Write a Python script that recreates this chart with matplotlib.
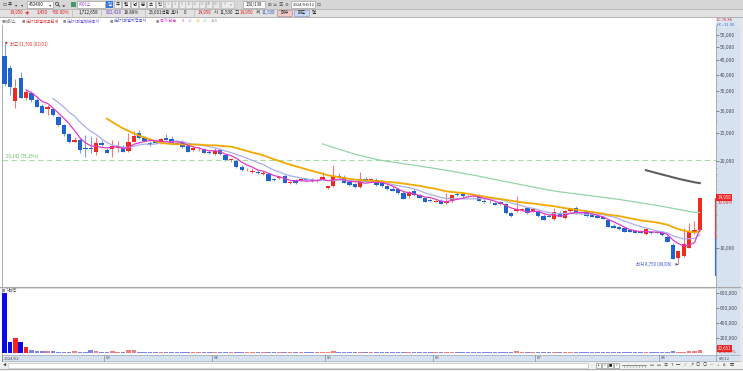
import matplotlib
matplotlib.use("Agg")
import matplotlib.pyplot as plt
import numpy as np
import pandas as pd
from matplotlib.patches import Rectangle, Circle
from matplotlib.ticker import FixedLocator, NullFormatter, FuncFormatter
from matplotlib.transforms import blended_transform_factory

plt.rcParams['font.family'] = ['Noto Sans CJK KR', 'DejaVu Sans']

# ---------------- data ----------------
opens = [46500, 42300, 32500, 38900, 33100, 34500, 32700, 31200, 30300, 30300,
         28400, 26700, 24900, 23400, 23700, 22300, 22250, 21580, 23100, 21880,
         22120, 22300, 22380, 21700, 23390, 24990, 24180, 23210, 23530, 23100,
         24110, 23900, 23160, 23390, 22600, 21880, 21970, 22000, 21580, 21190,
         21880, 21020, 20120, 20040, 19140, 18720, 18330, 18380, 18050, 18050,
         17280, 17440, 17770, 16850, 17210, 17210, 17390, 17300, 17070, 17300,
         16090, 16350, 17770, 17590, 16900, 16620, 16260, 17340, 17070, 17210,
         16760, 16350, 15970, 16010, 15540, 15080, 15750, 15260, 14860, 14660,
         14480, 14570, 14270, 14540, 15340, 15340, 15170, 15170, 15260, 14570,
         14460, 14270, 14400, 14190, 13180, 13440, 13530, 13710, 13440, 13390,
         12890, 12920, 12560, 13240, 12660, 13440, 13770, 13280, 13390, 13070,
         12890, 12760, 12490, 11900, 11770, 11680, 11520, 11430, 11430, 11130,
         11370, 11370, 11280, 10920, 10220, 9190, 9360, 10000, 11300, 11530]
highs = [51700, 43200, 38600, 40800, 35400, 35100, 33100, 31700, 31400, 30600,
         28700, 26900, 25100, 24200, 24000, 24700, 24400, 24300, 23700, 22230,
         23700, 23500, 22780, 25150, 25530, 25690, 24400, 23510, 23750, 24100,
         24820, 24400, 23530, 23710, 22960, 22600, 22420, 22230, 21880, 22230,
         22050, 21190, 20520, 20200, 19410, 18950, 18950, 18640, 18490, 18190,
         17480, 17770, 18050, 17070, 17340, 17480, 17480, 17480, 17340, 18270,
         16400, 19410, 18190, 17910, 17070, 16800, 18270, 17620, 17480, 17480,
         16930, 16530, 16400, 16140, 15750, 15750, 16010, 15380, 15020, 14780,
         14660, 14780, 15480, 15260, 15660, 15660, 15260, 15260, 15380, 14780,
         14660, 14420, 14540, 14310, 13310, 15140, 13740, 13860, 13610, 13530,
         13100, 13100, 13710, 13440, 13530, 13740, 13950, 13440, 13530, 13200,
         13000, 12890, 12590, 12100, 11900, 11810, 11620, 11570, 11520, 11620,
         11470, 11430, 11380, 11070, 10390, 9760, 11730, 12220, 12390, 14950]
lows = [36400, 34000, 30600, 33100, 32700, 32200, 30800, 29400, 29000, 28700,
        26600, 24500, 23200, 23300, 21400, 20750, 21350, 21000, 22600, 21360,
        20740, 21540, 21540, 21540, 23340, 23940, 23530, 22600, 23160, 22960,
        23620, 22990, 22900, 22260, 21540, 21700, 21700, 21360, 21200, 21020,
        21100, 20070, 19910, 18950, 18490, 18490, 18190, 18050, 17910, 17000,
        17070, 17340, 16760, 16670, 16670, 17070, 17070, 16930, 16930, 17140,
        16000, 16260, 17480, 16730, 16460, 16170, 16170, 16930, 16930, 16460,
        16310, 15880, 15690, 15380, 14780, 14900, 15190, 14840, 14420, 14480,
        14420, 14140, 14140, 14480, 15140, 14860, 14960, 14960, 14540, 14360,
        14270, 14050, 14110, 13100, 12840, 13310, 13440, 13150, 13310, 12840,
        12440, 12750, 12490, 12810, 12590, 13310, 13150, 13130, 12840, 12810,
        12640, 12540, 11810, 11670, 11570, 11340, 11340, 11210, 11210, 11070,
        11190, 11220, 11020, 10470, 9100, 8750, 9280, 9940, 11160, 11500]
closes = [37000, 36300, 35900, 33300, 34700, 32700, 31000, 29500, 31000, 29000,
          26700, 24900, 23400, 23800, 21900, 22000, 22000, 23100, 22750, 21420,
          22590, 22500, 21580, 23390, 24480, 24030, 23580, 22720, 23210, 23870,
          23710, 23100, 22960, 22380, 21580, 22170, 22140, 21420, 21310, 21760,
          21190, 20120, 20320, 19050, 18640, 18800, 18530, 18140, 18230, 17070,
          17140, 17680, 16850, 16980, 16760, 17390, 17210, 17070, 17210, 17680,
          16350, 17770, 17590, 16760, 16530, 16260, 17300, 16980, 17340, 16530,
          16350, 15970, 15790, 15470, 14810, 15630, 15260, 14860, 14460, 14540,
          14570, 14190, 14460, 15260, 15220, 15170, 15080, 15080, 14570, 14380,
          14400, 14080, 14150, 13180, 12920, 13610, 13610, 13180, 13610, 12890,
          12490, 12760, 13280, 12820, 13440, 13610, 13180, 13180, 12890, 12820,
          12660, 12560, 11840, 11680, 11580, 11370, 11370, 11280, 11280, 11580,
          11240, 11250, 11070, 10490, 9130, 9760, 10270, 11370, 11500, 14950]
volumes = [793000, 140000, 196000, 140000, 75000, 30000, 17000, 17000, 26000, 17000,
           15000, 15000, 14000, 20000, 15000, 15000, 30000, 22000, 15000, 12000,
           18000, 15000, 12000, 30000, 30000, 15000, 12000, 10000, 10000, 12000,
           9000, 9000, 8000, 9000, 9000, 8000, 7000, 8000, 7000, 9000,
           8000, 9000, 7000, 9000, 8000, 6000, 6000, 6000, 6000, 9000,
           6000, 7000, 8000, 6000, 6000, 7000, 6000, 6000, 6000, 9000,
           8000, 16000, 8000, 8000, 7000, 6000, 12000, 7000, 7000, 7000,
           6000, 7000, 6000, 7000, 8000, 8000, 6000, 6000, 7000, 6000,
           6000, 7000, 9000, 10000, 7000, 7000, 6000, 6000, 7000, 6000,
           6000, 6000, 6000, 9000, 7000, 16000, 8000, 7000, 7000, 7000,
           7000, 6000, 10000, 7000, 9000, 8000, 7000, 6000, 7000, 6000,
           6000, 6000, 8000, 7000, 6000, 7000, 6000, 6000, 6000, 9000,
           6000, 6000, 7000, 9000, 16000, 14000, 12000, 18000, 16000, 30000]
month_labels = ['2024/02', '03', '04', '05', '06', '07', '08']
month_start = [0, 19, 39, 60, 80, 99, 122]
price_ticks = [10000, 20000, 25000, 30000, 35000, 40000, 45000, 50000, 55000]
vol_ticks = [200000, 400000, 600000, 800000]
ma_windows = [5, 10, 20, 60, 120]
ma_colors = ['#E23CC8', '#A9AEEE', '#F2A900', '#93D6A6', '#5E5E5E']
ma_widths = [0.9, 0.9, 1.3, 0.9, 1.5]
ref_level = 20142
ref_label = '20,142 (75.15%)'
hi_label = '최고 51,700 (02/01)'
lo_label = '최저 8,750 (08/06)'

# ---------------- figure ----------------
W, H = 743, 371
fig = plt.figure(figsize=(W / 100, H / 100), dpi=100)
fig.patch.set_facecolor('white')

def px_axes(x0, y0, x1, y1, z=1):
    a = fig.add_axes([x0 / W, 1 - y1 / H, (x1 - x0) / W, (y1 - y0) / H])
    a.set_zorder(z)
    a.patch.set_alpha(0)
    return a

ui = px_axes(0, 0, W, H, z=0)
ui.set_xlim(0, W); ui.set_ylim(H, 0); ui.axis('off')
top = px_axes(0, 0, W, H, z=5)
top.set_xlim(0, W); top.set_ylim(H, 0); top.axis('off')

FS = 3.2
PANEL = '#D6E2EF'

def t(x, y, s, c='#202020', fs=FS, ha='left', ax=ui, **kw):
    ax.text(x, y, s, fontsize=fs, color=c, ha=ha, va='center', **kw)

# toolbar backgrounds
ui.add_patch(Rectangle((0, 0), W, 8.5, fc='#D6D6D6', ec='none'))
ui.add_patch(Rectangle((0, 8.5), W, 8.5, fc='#E2E2E2', ec='none'))
ui.plot([0, W], [8.5, 8.5], color='#B0B0B0', lw=0.6)
ui.plot([0, W], [17, 17], color='#A8A8A8', lw=0.6)
# right axis panel
ui.add_patch(Rectangle((716, 17), 24, 344, fc=PANEL, ec='none'))
ui.add_patch(Rectangle((740, 17), 3, 354, fc='#E6E6E6', ec='none'))
ui.plot([716, 716], [25, 361], color='#9AA8B8', lw=0.6)
# pane frames
ui.plot([1.5, 1.5], [25, 361], color='#A0A0A0', lw=0.6)
ui.plot([0, 740], [286.5, 286.5], color='#A8A8A8', lw=0.8)
ui.plot([0, 740], [288, 288], color='#D0D0D0', lw=0.5)
# date strip
ui.add_patch(Rectangle((2, 355), 714, 6, fc=PANEL, ec='none'))
ui.plot([2, 740], [355, 355], color='#9AA8B8', lw=0.5)
ui.plot([2, 740], [361, 361], color='#9AA8B8', lw=0.5)
# bottom bar
ui.add_patch(Rectangle((0, 361.5), W, 9.5, fc='#F0F0F0', ec='none'))
ui.plot([0, W], [368.5, 368.5], color='#A0A0A0', lw=0.6)
t(2.5, 365, '◀', c='#404040', fs=2.6)
ui.add_patch(Rectangle((8, 362.5), 580, 5, fc='white', ec='#B8B8B8', lw=0.4))
for k, s in enumerate(['▸', '«', '■', '»']):
    ui.add_patch(Rectangle((596 + k * 6, 362.5), 5, 5, fc='white', ec='#808080', lw=0.4))
    t(598.5 + k * 6, 365, s, fs=2.4, ha='center')
ui.plot([622, 646], [365, 365], color='#808080', lw=0.6)
for k in range(8):
    ui.plot([624 + k * 3, 624 + k * 3], [366, 367], color='#808080', lw=0.4)
for k, s in enumerate(['▭', '▭', '≡', 'T', '─', '⁄', '↗', '○', '○', '—', '+', 'A', '▤']):
    t(652 + k * 6.6, 365, s, c='#404040', fs=3.0, ha='center')

# toolbar row 1
y1 = 4.3
t(3, y1, '☐', c='#404040'); t(8, y1, '주'); t(15, y1, '▾', c='#404040'); t(21, y1, '▾', c='#404040')
ui.add_patch(Rectangle((27, 1), 26, 6.5, fc='white', ec='#909090', lw=0.4))
t(29, y1, '452400'); t(49, y1, '▾', c='#404040')
ui.add_patch(Circle((57, 3.8), 1.6, fc='none', ec='#404040', lw=0.5))
ui.plot([58.2, 59.6], [5.0, 6.4], color='#404040', lw=0.6)
t(62, y1, '◂▸', c='#404040')
ui.add_patch(Rectangle((71, 1.5), 5, 5.5, fc='#3F9A6A', ec='none'))
ui.add_patch(Rectangle((77, 1), 28, 6.5, fc='white', ec='#909090', lw=0.4))
t(79, y1, '에이스', c='#9050C0')
ui.add_patch(Rectangle((106, 1), 7, 6.5, fc='#3A78D8', ec='none'))
t(109.5, y1, '일', c='white', ha='center')
for k, s in enumerate(['주', '월', '년', '분', '초', '틱']):
    ui.add_patch(Rectangle((114 + k * 8.3, 1), 7.3, 6.5, fc='#F2F2F2', ec='#A0A0A0', lw=0.4))
    t(117.6 + k * 8.3, y1, s, ha='center')
for k, s in enumerate(['1', '3', '5', '10', '15', '30', '45', '60']):
    ui.add_patch(Rectangle((165 + k * 6.8, 1), 6.3, 6.5, fc='#EBEBEB', ec='#B8B8B8', lw=0.4))
    t(168.1 + k * 6.8, y1, s, c='#A0A0A0', fs=2.9, ha='center')
ui.add_patch(Rectangle((221, 1), 13, 6.5, fc='#EBEBEB', ec='#B8B8B8', lw=0.4))
t(223.5, y1, '3', c='#A0A0A0', fs=2.9); t(230, y1, '▾', c='#A0A0A0', fs=2.9)
ui.add_patch(Rectangle((243, 1), 22, 6.5, fc='white', ec='#909090', lw=0.4))
t(254, y1, '130/138', ha='center')
for k, s in enumerate(['⊞', '⇲', '▣', '⚙']):
    t(269 + k * 6, y1, s, c='#505050', ha='center')
ui.add_patch(Rectangle((291, 1), 24, 6.5, fc='white', ec='#909090', lw=0.4))
t(292.3, y1, '2024/08/12', fs=3.0)
t(316.5, y1, '☐', c='#404040')

# toolbar row 2
y2 = 12.8
row2 = [(10, '14,950', '#E01818'), (25, '✚', '#E01818'), (37, '3,450', '#E01818'),
        (52, '+30.00%', '#E01818'), (79, '1,712,658', '#202020'), (106, '932,428', '#7040C0'),
        (124, '18.88%', '#202020'), (149, '23,601백만', '#202020'), (171, '호가', '#202020'),
        (184, '0', '#202020'), (198, '14,950', '#E01818'), (214, '시', '#202020'),
        (220, '11,530', '#202020'), (235, '고', '#202020'), (240, '14,950', '#E01818'),
        (256, '저', '#202020'), (262, '11,530', '#2050D0')]
for xx, s, cc in row2:
    t(xx, y2, s, c=cc)
for x0 in [72, 101, 145, 194]:
    ui.plot([x0, x0], [9.5, 16], color='#B0B0B0', lw=0.4)
ui.add_patch(Rectangle((277, 9.5), 15, 6.5, fc='#F4C8C8', ec='#B08080', lw=0.4))
t(284.5, y2, '매수', ha='center')
ui.add_patch(Rectangle((294, 9.5), 15, 6.5, fc='#C8D8F4', ec='#8090B0', lw=0.4))
t(301.5, y2, '매도', ha='center')
t(312, y2, '멀')

# legend row
leg = [(2, '■', '#909090'), (5, '에이스', '#606060'), (22, '■', '#909090'),
       (26, '#단기과열예고단계', '#E83030'), (63, '■', '#909090'), (67, '#단기과열해제공시', '#6048E8'),
       (110, '■', '#909090'), (114, '#단기과열지정공시', '#4848D8'), (156, '■', '#909090'),
       (160, '종가 단순', '#E23CC8'), (182, '5', '#E23CC8'), (188, '10', ma_colors[1]),
       (196, '20', ma_colors[2]), (203, '60', ma_colors[3]), (211, '120', '#909090')]
for xx, s, cc in leg:
    t(xx, 21.3, s, c=cc, fs=3.0 if s != '■' else 2.4)
ui.add_patch(Rectangle((716, 17.5), 24, 9.5, fc='#DCE6F2', ec='none'))
t(717, 20, 'LC:78.88', c='#E03030', fs=2.9)
t(717, 24.5, 'HC:-11.00', c='#3060D0', fs=2.9)

# ---------------- price pane ----------------
x = np.arange(len(closes))
o = np.array(opens); h = np.array(highs); l = np.array(lows); c = np.array(closes)
up = c >= o
axp = px_axes(2, 25, 716, 286, z=2)
axp.set_yscale('log')
axp.set_ylim(7357, 59580)
axp.set_xlim(-0.464, 132.0)
for s in axp.spines.values():
    s.set_visible(False)
axp.set_xticks([])
axp.yaxis.tick_right()
axp.yaxis.set_major_locator(FixedLocator(price_ticks))
axp.yaxis.set_major_formatter(FuncFormatter(lambda v, p: f'{int(v):,}'))
axp.yaxis.set_minor_locator(FixedLocator([22500, 27500, 32500, 37500, 42500, 47500, 52500, 57500,
                                          11000, 12000, 13000, 14000, 16000, 17000, 18000, 19000]))
axp.yaxis.set_minor_formatter(NullFormatter())
axp.tick_params(axis='y', which='major', labelsize=3.5, labelcolor='#4A4A5A', color='#606070',
                length=2, width=0.5, pad=0.6)
axp.tick_params(axis='y', which='minor', color='#808090', length=1, width=0.4)

RED, BLUE = '#EE2A1E', '#2163CC'
RWICK, BWICK = '#F07A78', '#7EA0E0'
axp.vlines(x[up], l[up], h[up], color=RWICK, lw=0.8, zorder=2)
axp.vlines(x[~up], l[~up], h[~up], color=BWICK, lw=0.8, zorder=2)
body_lo = np.minimum(o, c); body_hi = np.maximum(o, c)
body_hi = np.where(body_hi / body_lo < 1.004, body_lo * 1.004, body_hi)
axp.bar(x[up], body_hi[up] - body_lo[up], bottom=body_lo[up], width=0.8, color=RED, zorder=3, lw=0)
axp.bar(x[~up], body_hi[~up] - body_lo[~up], bottom=body_lo[~up], width=0.8, color=BLUE, zorder=3, lw=0)

cs = pd.Series(closes, dtype=float)
for w, col, lw in zip(ma_windows, ma_colors, ma_widths):
    axp.plot(x, cs.rolling(w).mean(), color=col, lw=lw, zorder=4 if w > 5 else 5)

axp.axhline(ref_level, color='#A6DCA6', lw=0.8, ls=(0, (5, 3)), zorder=1)
axp.text(0.2, ref_level * 1.01, ref_label, fontsize=3.1, color='#5CB85C', va='bottom', ha='left')

axp.annotate(hi_label, xy=(0, highs[0]), xytext=(1.0, highs[0] * 0.985), fontsize=3.1,
             color='#E83030', va='center', ha='left',
             arrowprops=dict(arrowstyle='-|>', color='#E83030', lw=0.5, mutation_scale=3))
i_lo = int(np.argmin(lows))
axp.annotate(lo_label, xy=(i_lo, lows[i_lo]), xytext=(i_lo - 1.2, lows[i_lo]), fontsize=3.1,
             color='#3A50D8', va='center', ha='right',
             arrowprops=dict(arrowstyle='-|>', color='#3A50D8', lw=0.5, mutation_scale=3))

# current price tag and range bar in the right panel
ptr = blended_transform_factory(top.transData, axp.transData)
top.text(717.5, closes[-1], f'{closes[-1]:,}', transform=ptr,
         fontsize=3.2, color='white', va='center', ha='left',
         bbox=dict(boxstyle='square,pad=0.25', fc='#F02424', ec='none'))
top.text(718, closes[-1] * 0.958, '30.00%', transform=ptr, fontsize=3.1, color='#E02020',
         va='center', ha='left')
top.plot([714.5, 714.5], [closes[-1], 10800], color='#F04040', lw=0.9, transform=ptr)
top.plot([714.5, 714.5], [10800, 8035], color='#4070D0', lw=0.9, transform=ptr)

# ---------------- volume pane ----------------
axv = px_axes(2, 288, 716, 355, z=2)
axv.set_xlim(axp.get_xlim())
axv.set_ylim(-30700, 862700)
for s in axv.spines.values():
    s.set_visible(False)
axv.set_xticks([])
axv.yaxis.tick_right()
axv.yaxis.set_major_locator(FixedLocator(vol_ticks))
axv.yaxis.set_major_formatter(FuncFormatter(lambda v, p: f'{int(v):,}'))
axv.tick_params(axis='y', labelsize=3.5, labelcolor='#4A4A5A', color='#606070', length=2, width=0.5, pad=0.6)
vol = np.array(volumes)
big = vol >= 50000
vcol = np.where(up, np.where(big, '#FF2020', '#F47C7C'), np.where(big, '#0A0AE6', '#7A84EE'))
axv.bar(x, vol, width=0.85, color=vcol, lw=0)
t(2, 290.5, '■', c='#909090', fs=2.4)
t(5.5, 290.5, '거래량', c='#404040', fs=3.0)
vtr = blended_transform_factory(top.transData, axv.transData)
top.text(717.5, 58000, '20,651', transform=vtr, fontsize=3.1, color='white', va='center', ha='left',
         bbox=dict(boxstyle='square,pad=0.2', fc='#F02424', ec='none'))
top.text(718, 7000, '1132.49%', transform=vtr, fontsize=3.0, color='#E02020', va='center', ha='left')

# date strip labels
dtr = blended_transform_factory(axv.transData, ui.transData)
for lab, i0 in zip(month_labels, month_start):
    ui.plot([i0 - 0.5, i0 - 0.5], [355, 361], color='#8090A0', lw=0.5, transform=dtr)
    ui.text(i0 - 0.5 + 0.3, 358.1, lab, fontsize=3.0, color='#505060', va='center', ha='left', transform=dtr)
t(719, 358.1, '08/12', c='#505060', fs=3.0)

fig.savefig('out.png', dpi=100, facecolor='white')
